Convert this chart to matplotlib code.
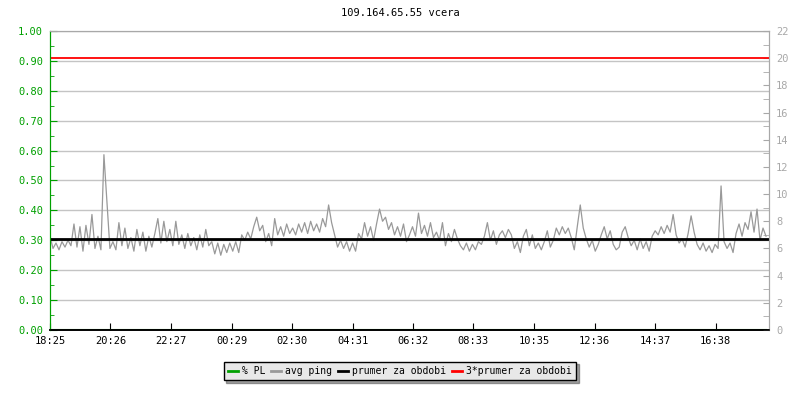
import matplotlib
matplotlib.use('Agg')
import matplotlib.pyplot as plt
from matplotlib.ticker import MultipleLocator, FormatStrFormatter
import numpy as np

# avg ping [ms], one sample every 6 minutes, start 18:25
avg_ping = [
    6.9, 6.0, 6.4, 5.9, 6.5, 6.1, 6.6, 6.2, 7.8, 6.1,
    7.6, 5.8, 7.7, 6.3, 8.5, 6.0, 6.9, 5.9, 12.9, 9.5,
    6.0, 6.5, 5.9, 7.9, 6.2, 7.5, 6.0, 6.8, 5.8, 7.4,
    6.2, 7.2, 5.8, 6.9, 6.1, 7.1, 8.2, 6.4, 8.0, 6.5,
    7.4, 6.2, 8.0, 6.3, 7.0, 6.0, 7.1, 6.2, 6.8, 5.9,
    7.0, 6.1, 7.4, 6.2, 6.5, 5.6, 6.4, 5.5, 6.3, 5.7,
    6.4, 5.8, 6.5, 5.7, 7.0, 6.6, 7.2, 6.7, 7.6, 8.3,
    7.3, 7.7, 6.5, 7.1, 6.2, 8.2, 7.0, 7.6, 6.9, 7.8,
    7.1, 7.5, 7.0, 7.8, 7.2, 7.9, 7.1, 8.0, 7.3, 7.8,
    7.2, 8.2, 7.6, 9.2, 7.9, 7.0, 6.1, 6.6, 6.0, 6.5,
    5.8, 6.4, 5.8, 7.1, 6.7, 7.9, 6.9, 7.6, 6.6, 7.8,
    8.9, 8.0, 8.3, 7.4, 7.9, 7.0, 7.6, 6.9, 7.8, 6.5,
    7.0, 7.6, 6.9, 8.6, 7.1, 7.7, 6.9, 7.9, 6.8, 7.2,
    6.6, 7.9, 6.2, 7.1, 6.5, 7.4, 6.7, 6.2, 5.9, 6.4,
    5.8, 6.3, 5.9, 6.5, 6.3, 6.9, 7.9, 6.6, 7.3, 6.3,
    7.0, 7.3, 6.8, 7.4, 7.0, 6.0, 6.5, 5.7, 6.9, 7.4,
    6.2, 7.0, 6.0, 6.4, 5.9, 6.5, 7.3, 6.1, 6.6, 7.5,
    7.0, 7.6, 7.1, 7.5, 6.8, 5.9, 7.6, 9.2, 7.5, 6.7,
    6.1, 6.6, 5.8, 6.3, 7.0, 7.6, 6.7, 7.3, 6.3, 5.9,
    6.1, 7.2, 7.6, 6.8, 6.2, 6.6, 5.9, 6.7, 6.0, 6.5,
    5.8, 6.9, 7.3, 7.0, 7.6, 7.1, 7.7, 7.2, 8.5, 7.0,
    6.4, 6.7, 6.1, 7.1, 8.4, 7.2, 6.3, 5.9, 6.4, 5.8,
    6.2, 5.7, 6.3, 6.0, 10.6, 6.5, 6.0, 6.4, 5.7, 7.1,
    7.8, 6.9, 7.9, 7.4, 8.7, 7.2, 8.9, 6.6, 7.5, 6.9,
]
step_min = 6
prumer = 6.68  # prumer za obdobi [ms]
tick_labels = ['18:25', '20:26', '22:27', '00:29', '02:30', '04:31',
               '06:32', '08:33', '10:35', '12:36', '14:37', '16:38']
title = '109.164.65.55 vcera'

green = '#00a000'
gray = '#999999'
axgray = '#a8a8a8'

plt.rcParams['font.family'] = 'DejaVu Sans Mono'
plt.rcParams['font.size'] = 7.5

t = np.arange(len(avg_ping)) * step_min
pl = np.zeros(len(avg_ping))

# minutes from start for every tick label
start = int(tick_labels[0][:2]) * 60 + int(tick_labels[0][3:])
tick_pos = []
for lab in tick_labels:
    m = int(lab[:2]) * 60 + int(lab[3:]) - start
    tick_pos.append(m % 1440)

fig = plt.figure(figsize=(8, 4), dpi=100)
ax1 = fig.add_axes([50 / 800, 1 - 330 / 400, 719 / 800, 299 / 400])
ax2 = ax1.twinx()

ax1.set_xlim(0, 1440)
ax1.set_ylim(0, 1)
ax2.set_ylim(0, 22)

ax1.yaxis.set_major_locator(MultipleLocator(0.1))
ax1.yaxis.set_minor_locator(MultipleLocator(0.05))
ax1.yaxis.set_major_formatter(FormatStrFormatter('%.2f'))
ax1.grid(axis='y', color='#c4c4c4', linewidth=1)
ax1.set_axisbelow(True)
ax1.set_xticks(tick_pos)
ax1.set_xticklabels(tick_labels)

ax2.yaxis.set_major_locator(MultipleLocator(2))
ax2.yaxis.set_minor_locator(MultipleLocator(1))

ax1.tick_params(axis='y', which='major', direction='in', length=5, color=green,
                labelcolor=green, pad=5)
ax1.tick_params(axis='y', which='minor', direction='in', length=3, color=green)
ax1.tick_params(axis='x', direction='in', length=5, color='black', pad=4)
ax2.tick_params(axis='y', which='both', direction='in', length=4, color=axgray,
                labelcolor=axgray, pad=5)

for ax in (ax1, ax2):
    ax.spines['left'].set_color(green)
    ax.spines['bottom'].set_color('black')
    ax.spines['right'].set_color(axgray)
    ax.spines['top'].set_color(axgray)
    ax.spines['bottom'].set_linewidth(1.2)

# lines
l_pl, = ax1.plot(t, pl, color=green, linewidth=1.5, label='% PL')
l_avg, = ax2.plot(t, avg_ping, color=gray, linewidth=0.9, label='avg ping')
l_pr = ax2.axhline(prumer, color='black', linewidth=2, label='prumer za obdobi')
l_pr3 = ax2.axhline(3 * prumer, color='red', linewidth=1.3,
                    label='3*prumer za obdobi')

fig.text(0.5, 1 - 13 / 400, title, ha='center', va='center')

leg = fig.legend(handles=[l_pl, l_avg, l_pr, l_pr3], loc='center',
                 bbox_to_anchor=(0.5, 1 - 371 / 400), ncol=4, fontsize=7,
                 handlelength=1.0, handletextpad=0.45, columnspacing=0.6,
                 fancybox=False, shadow=True, framealpha=1,
                 facecolor='#e8e8e8', edgecolor='black', borderpad=0.45)
for line in leg.get_lines():
    line.set_linewidth(2)

fig.savefig('out.png', dpi=100)
